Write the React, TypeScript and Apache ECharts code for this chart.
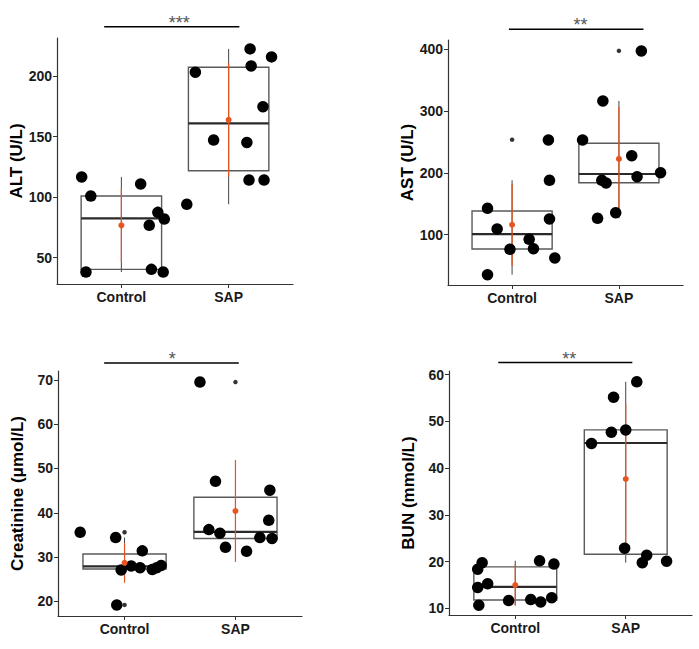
import React, { useEffect, useRef } from "react";
import * as echarts from "echarts";

const groups = ["Control", "SAP"];

// ---------- ALT ----------
const altControl = [116.8, 101, 111, 87.5, 82, 76.8, 38.2, 40.4, 38.2];
const altControlJitter = [-0.37, -0.285, 0.18, 0.34, 0.4, 0.26, -0.33, 0.28, 0.39];
const altSap = [94.2, 203.3, 222.6, 208.5, 216, 174.8, 147.3, 145.3, 114.2, 114.2];
const altSapJitter = [-0.39, -0.31, 0.2, 0.21, 0.4, 0.32, -0.14, 0.17, 0.19, 0.33];
const altBoxes = [[40.4, 82.6, 101], [121.9, 161, 207.4]];
const altWhiskers = [[38.2, 116.8], [94.2, 222.6]];
const altOutliers: number[][] = [[], []];
const altMeans = [76.8, 164];
const altSd = [30.5, 47];
const altTicks = [50, 100, 150, 200];

// ---------- AST ----------
const astControl = [142.6, 109.2, 76.4, 92.6, 77.4, 253, 187.9, 125.4, 62.4, 35.4];
const astControlJitter = [-0.23, -0.14, -0.02, 0.16, 0.2, 0.34, 0.35, 0.35, 0.4, -0.23];
const astSap = [253, 316, 396.8, 227.6, 187.9, 183.5, 193.7, 200.2, 126.5, 135.5];
const astSapJitter = [-0.34, -0.15, 0.21, 0.12, -0.16, -0.12, 0.17, 0.39, -0.2, -0.03];
const astBoxes = [[76.9, 101, 138.3], [184, 198, 247.7]];
const astWhiskers = [[35.4, 187.9], [126.5, 316]];
const astOutliers = [[253.5], [397]];
const astMeans = [116, 222.3];
const astSd = [66, 84];
const astTicks = [100, 200, 300, 400];

// ---------- Creatinine ----------
const crControl = [35.6, 34.4, 31.4, 27.1, 28.0, 27.6, 27.2, 27.6, 28.1, 19.2];
const crControlJitter = [-0.4, -0.08, 0.16, -0.03, 0.06, 0.14, 0.25, 0.29, 0.33, -0.07];
const crSap = [69.5, 47.1, 45.1, 38.3, 36.2, 35.4, 32.2, 31.3, 34.4, 34.2];
const crSapJitter = [-0.32, -0.18, 0.31, 0.3, -0.24, -0.14, -0.09, 0.1, 0.22, 0.33];
const crBoxes = [[27.3, 27.9, 30.7], [34.2, 35.7, 43.5]];
const crWhiskers = [[27.1, 34.4], [31.3, 47.1]];
const crOutliers = [[35.6, 19.2], [69.5]];
const crMeans = [28.7, 40.4];
const crSd = [4.5, 11.5];
const crTicks = [20, 30, 40, 50, 60, 70];

// ---------- BUN ----------
const bunControl = [18.4, 19.8, 14.5, 15.3, 10.7, 11.7, 11.9, 11.4, 12.3, 20.2, 19.5];
const bunControlJitter = [-0.34, -0.3, -0.34, -0.25, -0.33, -0.06, 0.14, 0.23, 0.33, 0.22, 0.35];
const bunSap = [58.5, 55.2, 47.7, 48.2, 45.3, 22.9, 21.4, 19.8, 20.1];
const bunSapJitter = [0.1, -0.11, -0.13, 0.0, -0.31, -0.01, 0.19, 0.15, 0.37];
const bunBoxes = [[11.8, 14.6, 18.9], [21.6, 45.4, 48.2]];
const bunWhiskers = [[10.7, 20.2], [19.8, 58.5]];
const bunOutliers: number[][] = [[], []];
const bunMeans = [15.0, 37.7];
const bunSd = [4.4, 16.2];
const bunTicks = [10, 20, 30, 40, 50, 60];

// significance annotations: [xStart, xEnd, yValue, xText]
const sigBars = [
  [0.84, 2.1, 240.9, 1.54],
  [0.97, 2.23, 431.8, 1.64],
  [0.816, 2.03, 73.8, 1.43],
  [0.846, 2.06, 62.6, 1.488],
];
const sigLabels = ["***", "**", "*", "**"];

const yTitles = ["ALT (U/L)", "AST (U/L)", "Creatinine (\u03bcmol/L)", "BUN (mmol/L)"];
const yRanges = [
  [28.3, 231.6],
  [18.7, 414.5],
  [16.7, 72.0],
  [8.6, 60.8],
];

const ORANGE = "#E8541E";
const FONT = "Liberation Sans, Arial, sans-serif";

const panels = [
  { control: altControl, cj: altControlJitter, sap: altSap, sj: altSapJitter, boxes: altBoxes, whiskers: altWhiskers, outliers: altOutliers, means: altMeans, sd: altSd, ticks: altTicks },
  { control: astControl, cj: astControlJitter, sap: astSap, sj: astSapJitter, boxes: astBoxes, whiskers: astWhiskers, outliers: astOutliers, means: astMeans, sd: astSd, ticks: astTicks },
  { control: crControl, cj: crControlJitter, sap: crSap, sj: crSapJitter, boxes: crBoxes, whiskers: crWhiskers, outliers: crOutliers, means: crMeans, sd: crSd, ticks: crTicks },
  { control: bunControl, cj: bunControlJitter, sap: bunSap, sj: bunSapJitter, boxes: bunBoxes, whiskers: bunWhiskers, outliers: bunOutliers, means: bunMeans, sd: bunSd, ticks: bunTicks },
];

const grids = [
  { left: 57, top: 38, width: 236, height: 246 },
  { left: 448, top: 40, width: 235, height: 245 },
  { left: 58, top: 371, width: 244, height: 245 },
  { left: 449, top: 371, width: 243, height: 244 },
];

function buildOption() {
  const xAxis: any[] = [];
  const yAxis: any[] = [];
  const series: any[] = [];

  panels.forEach((p, i) => {
    xAxis.push({
      type: "value",
      gridIndex: i,
      min: 0.4,
      max: 2.6,
      splitLine: { show: false },
      axisLine: { show: true, lineStyle: { color: "#333", width: 1.2 } },
      axisTick: { show: true, length: 4, customValues: [1, 2], lineStyle: { color: "#333" } },
      axisLabel: {
        customValues: [1, 2],
        formatter: (v: number) => groups[Math.round(v) - 1] ?? "",
        color: "#1a1a1a",
        fontWeight: "bold",
        fontSize: 14,
        fontFamily: FONT,
        margin: 6,
      },
    });
    yAxis.push({
      type: "value",
      gridIndex: i,
      min: yRanges[i][0],
      max: yRanges[i][1],
      splitLine: { show: false },
      axisLine: { show: true, lineStyle: { color: "#333", width: 1.2 } },
      axisTick: { show: true, length: 4, customValues: p.ticks, lineStyle: { color: "#333" } },
      axisLabel: {
        customValues: p.ticks,
        color: "#1a1a1a",
        fontWeight: "bold",
        fontSize: 14,
        fontFamily: FONT,
        margin: 5,
      },
      name: yTitles[i],
      nameLocation: "middle",
      nameRotate: 90,
      nameGap: 32,
      nameTextStyle: { color: "#000", fontWeight: "bold", fontSize: 17, fontFamily: FONT },
    });

    // whiskers
    series.push({
      type: "custom",
      xAxisIndex: i,
      yAxisIndex: i,
      clip: false,
      data: p.whiskers.map((w, g) => [g + 1, w[0], w[1]]),
      encode: { x: 0, y: [1, 2] },
      renderItem: (params: any, api: any) => {
        const a = api.coord([api.value(0), api.value(1)]);
        const b = api.coord([api.value(0), api.value(2)]);
        return {
          type: "line",
          shape: { x1: a[0], y1: a[1], x2: b[0], y2: b[1] },
          style: { stroke: "#444", lineWidth: 1 },
        };
      },
      silent: true,
    });

    // boxes
    series.push({
      type: "custom",
      xAxisIndex: i,
      yAxisIndex: i,
      clip: false,
      data: p.boxes.map((b, g) => [g + 1, b[0], b[1], b[2]]),
      encode: { x: 0, y: [1, 2, 3] },
      renderItem: (params: any, api: any) => {
        const x = api.value(0);
        const top = api.coord([x, api.value(3)]);
        const bot = api.coord([x, api.value(1)]);
        const med = api.coord([x, api.value(2)]);
        const w = api.size([0.75, 0])[0];
        return {
          type: "group",
          children: [
            {
              type: "rect",
              shape: { x: top[0] - w / 2, y: top[1], width: w, height: bot[1] - top[1] },
              style: { fill: "none", stroke: "#5a5a5a", lineWidth: 1.4 },
            },
            {
              type: "line",
              shape: { x1: med[0] - w / 2, y1: med[1], x2: med[0] + w / 2, y2: med[1] },
              style: { stroke: "#2a2a2a", lineWidth: 2.2 },
            },
          ],
        };
      },
      silent: true,
    });

    // mean +/- SD lines
    series.push({
      type: "custom",
      xAxisIndex: i,
      yAxisIndex: i,
      clip: false,
      data: p.means.map((m, g) => [g + 1, m, p.sd[g]]),
      encode: { x: 0, y: 1 },
      renderItem: (params: any, api: any) => {
        const x = api.value(0);
        const m = api.value(1);
        const s = api.value(2);
        const a = api.coord([x, m - s]);
        const b = api.coord([x, m + s]);
        return {
          type: "line",
          shape: { x1: a[0], y1: a[1], x2: b[0], y2: b[1] },
          style: { stroke: ORANGE, lineWidth: 1.2 },
        };
      },
      silent: true,
    });

    // jittered points
    series.push({
      type: "scatter",
      xAxisIndex: i,
      yAxisIndex: i,
      symbolSize: 11.5,
      itemStyle: { color: "#000", opacity: 1 },
      data: [
        ...p.control.map((v, k) => [1 + p.cj[k], v]),
        ...p.sap.map((v, k) => [2 + p.sj[k], v]),
      ],
      silent: true,
    });

    // outliers
    series.push({
      type: "scatter",
      xAxisIndex: i,
      yAxisIndex: i,
      symbolSize: 4.5,
      itemStyle: { color: "#333", opacity: 1 },
      data: p.outliers.flatMap((arr, g) => arr.map((v) => [g + 1, v])),
      silent: true,
    });

    // mean dots
    series.push({
      type: "scatter",
      xAxisIndex: i,
      yAxisIndex: i,
      symbolSize: 6,
      itemStyle: { color: ORANGE, opacity: 1 },
      data: p.means.map((m, g) => [g + 1, m]),
      silent: true,
    });

    // significance bar
    series.push({
      type: "custom",
      xAxisIndex: i,
      yAxisIndex: i,
      clip: false,
      data: [sigBars[i]],
      encode: { x: [0, 1], y: 2 },
      renderItem: (params: any, api: any) => {
        const a = api.coord([api.value(0), api.value(2)]);
        const b = api.coord([api.value(1), api.value(2)]);
        const t = api.coord([api.value(3), api.value(2)]);
        return {
          type: "group",
          children: [
            {
              type: "line",
              shape: { x1: a[0], y1: a[1], x2: b[0], y2: b[1] },
              style: { stroke: "#000", lineWidth: 1.5 },
            },
            {
              type: "text",
              x: t[0],
              y: t[1] - 4,
              style: {
                text: sigLabels[i],
                fontSize: 18,
                fontFamily: FONT,
                fill: "#555",
                align: "center",
                verticalAlign: "middle",
              },
            },
          ],
        };
      },
      silent: true,
    });
  });

  return {
    animation: false,
    backgroundColor: "#fff",
    grid: grids.map((g) => ({ ...g, containLabel: false })),
    xAxis,
    yAxis,
    series,
  };
}

export default function App() {
  const ref = useRef<HTMLDivElement>(null);
  useEffect(() => {
    if (!ref.current) return;
    const chart = echarts.init(ref.current, null, { renderer: "svg" });
    chart.setOption(buildOption() as any);
    return () => chart.dispose();
  }, []);
  return (
    <div
      ref={ref}
      style={{ position: "absolute", left: 0, top: 0, width: 699, height: 649 }}
    />
  );
}
